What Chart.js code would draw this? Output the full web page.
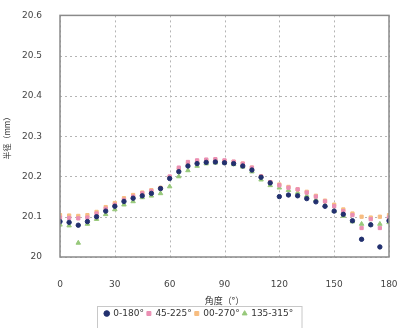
<!DOCTYPE html>
<html>
<head>
<meta charset="utf-8">
<script src="https://cdn.jsdelivr.net/npm/chart.js@4"></script>
<style>
  html, body { margin: 0; padding: 0; background: #fff; }
  #wrap { width: 398px; height: 328px; position: relative; }
</style>
</head>
<body>
<div id="wrap"><canvas id="chart"></canvas></div>
<script>
const angles = [0, 5, 10, 15, 20, 25, 30, 35, 40, 45, 50, 55, 60, 65, 70, 75, 80, 85, 90,
  95, 100, 105, 110, 115, 120, 125, 130, 135, 140, 145, 150, 155, 160, 165, 170, 175, 180];
const seriesNames = ['0-180°', '45-225°', '00-270°', '135-315°'];
const r0_180 = [20.088, 20.086, 20.079, 20.088, 20.100, 20.114, 20.126, 20.138, 20.146, 20.152, 20.158, 20.170,
  20.195, 20.212, 20.226, 20.232, 20.235, 20.236, 20.234, 20.232, 20.226, 20.216, 20.198, 20.184,
  20.150, 20.154, 20.152, 20.145, 20.137, 20.126, 20.114, 20.106, 20.090, 20.044, 20.080, 20.025, 20.090];
const r45_225 = [20.098, 20.097, 20.096, 20.098, 20.108, 20.120, 20.130, 20.142, 20.150, 20.158, 20.164, 20.170,
  20.200, 20.222, 20.236, 20.240, 20.242, 20.243, 20.240, 20.237, 20.232, 20.222, 20.200, 20.186,
  20.178, 20.172, 20.168, 20.160, 20.150, 20.138, 20.126, 20.114, 20.104, 20.072, 20.094, 20.072, 20.098];
const r90_270 = [20.104, 20.103, 20.102, 20.104, 20.112, 20.124, 20.134, 20.146, 20.154, 20.160, 20.166, 20.172,
  20.198, 20.218, 20.232, 20.238, 20.240, 20.240, 20.238, 20.236, 20.232, 20.222, 20.200, 20.186,
  20.180, 20.174, 20.168, 20.162, 20.152, 20.140, 20.130, 20.118, 20.108, 20.100, 20.098, 20.100, 20.104];
const r135_315 = [20.080, 20.078, 20.035, 20.082, 20.094, 20.106, 20.118, 20.130, 20.138, 20.148, 20.152, 20.158,
  20.175, 20.200, 20.215, 20.226, 20.232, 20.234, 20.234, 20.230, 20.224, 20.212, 20.192, 20.178,
  20.172, 20.166, 20.160, 20.152, 20.142, 20.128, 20.114, 20.102, 20.088, 20.082, 20.080, 20.082, 20.086];

const toPoints = vals => angles.map((a, i) => ({ x: a, y: vals[i] }));

// dotted grid at the scale ticks (drawn under the points)
const dottedGrid = {
  id: 'dottedGrid',
  beforeDatasetsDraw(chart) {
    const { ctx, chartArea: a, scales: { x, y } } = chart;
    ctx.save();
    ctx.strokeStyle = '#b4b4b4';
    ctx.lineWidth = 1;
    ctx.setLineDash([2, 3]);
    ctx.beginPath();
    x.ticks.forEach(t => {
      const px = Math.round(x.getPixelForValue(t.value)) + 0.5;
      ctx.moveTo(px, a.top); ctx.lineTo(px, a.bottom);
    });
    y.ticks.forEach(t => {
      const py = Math.round(y.getPixelForValue(t.value)) + 0.5;
      ctx.moveTo(a.left, py); ctx.lineTo(a.right, py);
    });
    ctx.stroke();
    ctx.restore();
  }
};

// frame around plot area + box around legend items
const framePlugin = {
  id: 'frame',
  afterDraw(chart) {
    const { ctx, chartArea: a, legend } = chart;
    ctx.save();
    ctx.setLineDash([]);
    ctx.strokeStyle = '#8a8a8a';
    ctx.lineWidth = 1.5;
    ctx.strokeRect(a.left, a.top, a.right - a.left, a.bottom - a.top);
    const boxes = legend.legendHitBoxes || [];
    if (boxes.length) {
      const l = Math.min(...boxes.map(b => b.left)) - 8;
      const r = Math.max(...boxes.map(b => b.left + b.width)) + 8;
      ctx.strokeStyle = '#c8c8c8';
      ctx.lineWidth = 1;
      ctx.strokeRect(Math.round(l) + 0.5, legend.top + 0.5, r - l, legend.height + 10);
    }
    ctx.restore();
  }
};

new Chart(document.getElementById('chart'), {
  type: 'scatter',
  data: {
    datasets: [
      { label: seriesNames[0], data: toPoints(r0_180), pointStyle: 'circle', pointRadius: 2.2,
        backgroundColor: '#22306e', borderColor: '#22306e', order: 1 },
      { label: seriesNames[1], data: toPoints(r45_225), pointStyle: 'rect', pointRadius: 2.3,
        backgroundColor: '#eb8fb3', borderColor: '#eb8fb3', order: 2 },
      { label: seriesNames[2], data: toPoints(r90_270), pointStyle: 'rect', pointRadius: 2.3,
        backgroundColor: '#f7bd80', borderColor: '#f7bd80', order: 3 },
      { label: seriesNames[3], data: toPoints(r135_315), pointStyle: 'triangle', pointRadius: 2.6,
        backgroundColor: '#97c87a', borderColor: '#97c87a', order: 4 }
    ]
  },
  options: {
    responsive: true,
    maintainAspectRatio: false,
    animation: false,
    layout: { padding: { left: 0, right: 0, top: 2, bottom: 0 } },
    plugins: {
      tooltip: { enabled: false },
      legend: {
        position: 'bottom',
        labels: {
          usePointStyle: true,
          boxWidth: 4,
          boxHeight: 4,
          padding: 3,
          color: '#333',
          font: { family: 'DejaVu Sans', size: 9 }
        }
      }
    },
    scales: {
      x: {
        type: 'linear',
        min: 0, max: 180,
        ticks: { stepSize: 30, padding: 14, color: '#444', font: { family: 'DejaVu Sans', size: 9 } },
        grid: { display: false },
        border: { display: false },
        title: { display: true, text: '角度（°）', color: '#333', padding: { top: 5, bottom: 0 },
          font: { family: 'Noto Sans CJK JP', size: 9 } },
        afterFit: s => { s.height = 49; s.paddingRight = 9; s.paddingLeft = 0; }
      },
      y: {
        min: 20, max: 20.6,
        ticks: { stepSize: 0.1, padding: 10, color: '#444', font: { family: 'DejaVu Sans', size: 9 },
          callback: v => String(Number(v.toFixed(1))) },
        grid: { display: false },
        border: { display: false },
        title: { display: true, text: '半径（mm）', color: '#333', padding: 2,
          font: { family: 'Noto Sans CJK JP', size: 8 } },
        afterFit: s => { s.width = 60; }
      }
    }
  },
  plugins: [dottedGrid, framePlugin]
});
</script>
</body>
</html>
